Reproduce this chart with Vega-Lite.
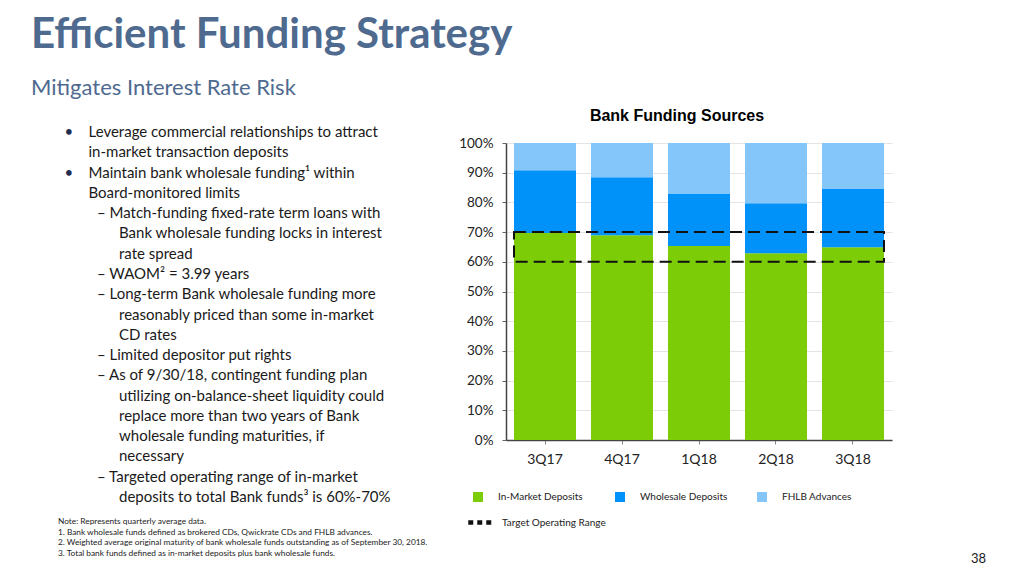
{
  "$schema": "https://vega.github.io/schema/vega-lite/v6.json",
  "background": "white",
  "padding": {"left": 0, "top": 14, "right": 0, "bottom": 0},
  "bounds": "flush",
  "spacing": 20,
  "title": {
    "text": "Efficient Funding Strategy",
    "subtitle": "Mitigates Interest Rate Risk",
    "anchor": "start",
    "dx": 31,
    "font": "Lato",
    "fontSize": 42,
    "fontWeight": "bold",
    "color": "#4f6a8f",
    "subtitleFont": "Lato",
    "subtitleFontSize": 22,
    "subtitleColor": "#4f6a8f",
    "subtitlePadding": 21,
    "offset": 8
  },
  "config": {"view": {"stroke": null}, "font": "Lato"},
  "hconcat": [
    {
      "width": 486,
      "height": 297,
      "layer": [
        {
          "data": {"name": "lines"},
          "transform": [{"filter": "datum.kind === 'bullet'"}],
          "mark": {"type": "text", "align": "left", "baseline": "middle", "font": "Lato", "fontSize": 15, "color": "#1f2d50", "dx": -24},
          "encoding": {
            "x": {"field": "level", "type": "quantitative", "scale": {"domain": [0, 2], "range": [58, 119]}, "axis": null},
            "y": {"field": "line", "type": "quantitative", "scale": {"domain": [1, 19], "range": [-11, 354]}, "axis": null},
            "text": {"value": "•"}
          }
        },
        {
          "data": {"name": "lines"},
          "transform": [{"filter": "datum.kind !== 'dash'"}],
          "mark": {"type": "text", "align": "left", "baseline": "middle", "font": "Lato", "fontSize": 15, "color": "#1a1a1a"},
          "encoding": {
            "x": {"field": "level", "type": "quantitative", "scale": {"domain": [0, 2], "range": [58, 119]}, "axis": null},
            "y": {"field": "line", "type": "quantitative", "scale": {"domain": [1, 19], "range": [-11, 354]}, "axis": null},
            "text": {"field": "text"}
          }
        },
        {
          "data": {"name": "lines"},
          "transform": [{"filter": "datum.kind === 'dash'"}],
          "mark": {"type": "text", "align": "left", "baseline": "middle", "font": "Lato", "fontSize": 15, "color": "#1a1a1a", "dx": -22},
          "encoding": {
            "x": {"field": "level", "type": "quantitative", "scale": {"domain": [0, 2], "range": [58, 119]}, "axis": null},
            "y": {"field": "line", "type": "quantitative", "scale": {"domain": [1, 19], "range": [-11, 354]}, "axis": null},
            "text": {"field": "text"}
          }
        },
        {
          "data": {"name": "notes"},
          "mark": {"type": "text", "align": "left", "baseline": "middle", "font": "Lato", "fontSize": 8.3, "color": "#1a1a1a"},
          "encoding": {
            "x": {"field": "level", "type": "quantitative", "scale": {"domain": [0, 2], "range": [58, 119]}, "axis": null},
            "y": {"field": "fn", "type": "quantitative", "scale": {"domain": [1, 4], "range": [379, 411]}, "axis": null},
            "text": {"field": "text"}
          }
        }
      ],
      "resolve": {"scale": {"y": "independent"}}
    },
    {
      "width": 386,
      "height": 297,
      "title": {
        "text": "Bank Funding Sources",
        "font": "Liberation Sans",
        "fontSize": 16,
        "fontWeight": "bold",
        "color": "#000000",
        "anchor": "middle",
        "frame": "group",
        "dx": -22,
        "offset": 12
      },
      "layer": [
        {
          "data": {"name": "funding"},
          "transform": [{"calculate": "indexof(['In-Market Deposits','Wholesale Deposits','FHLB Advances'], datum.source)", "as": "ord"}],
          "mark": {"type": "bar"},
          "encoding": {
            "x": {
              "field": "quarter", "type": "nominal",
              "scale": {"domain": ["3Q17", "4Q17", "1Q18", "2Q18", "3Q18"], "paddingInner": 0.195, "paddingOuter": 0.104},
              "axis": {"title": null, "labelAngle": 0, "labelFont": "Lato", "labelFontSize": 14, "labelColor": "#222222", "labelPadding": 8, "tickSize": 4, "tickColor": "#888888", "domainColor": "#444444", "domainWidth": 1.5, "grid": false}
            },
            "y": {
              "field": "pct", "type": "quantitative", "stack": "zero",
              "scale": {"domain": [0, 100]},
              "axis": {"title": null, "values": [0, 10, 20, 30, 40, 50, 60, 70, 80, 90, 100], "tickCount": 11, "labelOverlap": false, "labelExpr": "datum.value + '%'", "labelFont": "Lato", "labelFontSize": 13.5, "labelColor": "#222222", "labelPadding": 9, "tickSize": 4, "tickColor": "#666666", "domainColor": "#444444", "domainWidth": 1.5, "grid": true, "gridColor": "#e4e4e4", "gridWidth": 1}
            },
            "color": {
              "field": "source", "type": "nominal",
              "scale": {"domain": ["In-Market Deposits", "Wholesale Deposits", "FHLB Advances"], "range": ["#7ccc08", "#0091f9", "#85c6fa"]},
              "legend": {"orient": "none", "legendX": 473, "legendY": 349, "direction": "horizontal", "title": null, "symbolType": "square", "symbolSize": 100, "symbolStrokeWidth": 0, "labelFont": "Lato", "labelFontSize": 10, "labelColor": "#222222", "labelOffset": 15, "columnPadding": 29, "gridAlign": "all", "padding": 0}
            },
            "order": {"field": "ord", "type": "quantitative"}
          }
        },
        {
          "data": {"name": "target"},
          "mark": {"type": "rect", "fill": "transparent", "stroke": "#111111", "strokeWidth": 2, "strokeDash": [12, 6]},
          "encoding": {
            "x": {"field": "from", "type": "nominal", "bandPosition": 0,
              "axis": {"title": null, "labelAngle": 0, "labelFont": "Lato", "labelFontSize": 14, "labelColor": "#222222", "labelPadding": 8, "tickSize": 4, "tickColor": "#888888", "domainColor": "#444444", "domainWidth": 1.5, "grid": false}},
            "x2": {"field": "to", "bandPosition": 1},
            "y": {"field": "lo", "type": "quantitative",
              "axis": {"title": null, "values": [0, 10, 20, 30, 40, 50, 60, 70, 80, 90, 100], "tickCount": 11, "labelOverlap": false, "labelExpr": "datum.value + '%'", "labelFont": "Lato", "labelFontSize": 13.5, "labelColor": "#222222", "labelPadding": 9, "tickSize": 4, "tickColor": "#666666", "domainColor": "#444444", "domainWidth": 1.5, "grid": true, "gridColor": "#e4e4e4", "gridWidth": 1}},
            "y2": {"field": "hi"}
          }
        },
        {
          "data": {"name": "target"},
          "mark": {"type": "rule", "color": "#111111", "strokeWidth": 2, "strokeCap": "butt"},
          "encoding": {
            "x": {"field": "from", "type": "nominal", "bandPosition": 0,
              "axis": {"title": null, "labelAngle": 0, "labelFont": "Lato", "labelFontSize": 14, "labelColor": "#222222", "labelPadding": 8, "tickSize": 4, "tickColor": "#888888", "domainColor": "#444444", "domainWidth": 1.5, "grid": false}},
            "x2": {"field": "from", "bandPosition": 0},
            "y": {"field": "hi", "type": "quantitative",
              "axis": {"title": null, "values": [0, 10, 20, 30, 40, 50, 60, 70, 80, 90, 100], "tickCount": 11, "labelOverlap": false, "labelExpr": "datum.value + '%'", "labelFont": "Lato", "labelFontSize": 13.5, "labelColor": "#222222", "labelPadding": 9, "tickSize": 4, "tickColor": "#666666", "domainColor": "#444444", "domainWidth": 1.5, "grid": true, "gridColor": "#e4e4e4", "gridWidth": 1}},
            "strokeDash": {
              "field": "label", "type": "nominal",
              "scale": {"domain": ["Target Operating Range"], "range": [[5, 4]]},
              "legend": {"orient": "none", "legendX": 466, "legendY": 365, "title": null, "symbolType": "stroke", "symbolSize": 600, "symbolStrokeWidth": 4.5, "symbolStrokeColor": "#111111", "labelFont": "Lato", "labelFontSize": 10, "labelColor": "#222222", "labelOffset": 7, "padding": 0}
            }
          }
        },
        {
          "data": {"values": [{"page": "38"}]},
          "mark": {"type": "text", "align": "right", "baseline": "middle", "font": "Lato", "fontSize": 13, "color": "#1a1a1a", "dx": 133, "dy": 119},
          "encoding": {
            "x": {"datum": "3Q18", "type": "nominal",
              "axis": {"title": null, "labelAngle": 0, "labelFont": "Lato", "labelFontSize": 14, "labelColor": "#222222", "labelPadding": 8, "tickSize": 4, "tickColor": "#888888", "domainColor": "#444444", "domainWidth": 1.5, "grid": false}},
            "y": {"datum": 0, "type": "quantitative",
              "axis": {"title": null, "values": [0, 10, 20, 30, 40, 50, 60, 70, 80, 90, 100], "tickCount": 11, "labelOverlap": false, "labelExpr": "datum.value + '%'", "labelFont": "Lato", "labelFontSize": 13.5, "labelColor": "#222222", "labelPadding": 9, "tickSize": 4, "tickColor": "#666666", "domainColor": "#444444", "domainWidth": 1.5, "grid": true, "gridColor": "#e4e4e4", "gridWidth": 1}},
            "text": {"field": "page"}
          }
        }
      ]
    }
  ],
  "datasets": {
    "funding": [
      {"quarter": "3Q17", "source": "In-Market Deposits", "pct": 69.7},
      {"quarter": "3Q17", "source": "Wholesale Deposits", "pct": 21.1},
      {"quarter": "3Q17", "source": "FHLB Advances", "pct": 9.2},
      {"quarter": "4Q17", "source": "In-Market Deposits", "pct": 68.9},
      {"quarter": "4Q17", "source": "Wholesale Deposits", "pct": 19.6},
      {"quarter": "4Q17", "source": "FHLB Advances", "pct": 11.5},
      {"quarter": "1Q18", "source": "In-Market Deposits", "pct": 65.3},
      {"quarter": "1Q18", "source": "Wholesale Deposits", "pct": 17.7},
      {"quarter": "1Q18", "source": "FHLB Advances", "pct": 17.0},
      {"quarter": "2Q18", "source": "In-Market Deposits", "pct": 62.9},
      {"quarter": "2Q18", "source": "Wholesale Deposits", "pct": 16.8},
      {"quarter": "2Q18", "source": "FHLB Advances", "pct": 20.3},
      {"quarter": "3Q18", "source": "In-Market Deposits", "pct": 64.9},
      {"quarter": "3Q18", "source": "Wholesale Deposits", "pct": 19.6},
      {"quarter": "3Q18", "source": "FHLB Advances", "pct": 15.5}
    ],
    "target": [
      {"label": "Target Operating Range", "from": "3Q17", "to": "3Q18", "lo": 60, "hi": 70}
    ],
    "lines": [
      {"line": 1, "level": 1, "kind": "bullet", "text": "Leverage commercial relationships to attract"},
      {"line": 2, "level": 1, "kind": "text", "text": "in-market transaction deposits"},
      {"line": 3, "level": 1, "kind": "bullet", "text": "Maintain bank wholesale funding¹ within"},
      {"line": 4, "level": 1, "kind": "text", "text": "Board-monitored limits"},
      {"line": 5, "level": 2, "kind": "dash", "text": "– Match-funding fixed-rate term loans with"},
      {"line": 6, "level": 2, "kind": "sub", "text": "Bank wholesale funding locks in interest"},
      {"line": 7, "level": 2, "kind": "sub", "text": "rate spread"},
      {"line": 8, "level": 2, "kind": "dash", "text": "– WAOM² = 3.99 years"},
      {"line": 9, "level": 2, "kind": "dash", "text": "– Long-term Bank wholesale funding more"},
      {"line": 10, "level": 2, "kind": "sub", "text": "reasonably priced than some in-market"},
      {"line": 11, "level": 2, "kind": "sub", "text": "CD rates"},
      {"line": 12, "level": 2, "kind": "dash", "text": "– Limited depositor put rights"},
      {"line": 13, "level": 2, "kind": "dash", "text": "– As of 9/30/18, contingent funding plan"},
      {"line": 14, "level": 2, "kind": "sub", "text": "utilizing on-balance-sheet liquidity could"},
      {"line": 15, "level": 2, "kind": "sub", "text": "replace more than two years of Bank"},
      {"line": 16, "level": 2, "kind": "sub", "text": "wholesale funding maturities, if"},
      {"line": 17, "level": 2, "kind": "sub", "text": "necessary"},
      {"line": 18, "level": 2, "kind": "dash", "text": "– Targeted operating range of in-market"},
      {"line": 19, "level": 2, "kind": "sub", "text": "deposits to total Bank funds³ is 60%-70%"}
    ],
    "notes": [
      {"fn": 1, "level": 0, "text": "Note: Represents quarterly average data."},
      {"fn": 2, "level": 0, "text": "1.  Bank wholesale funds defined as brokered CDs, Qwickrate CDs and FHLB advances."},
      {"fn": 3, "level": 0, "text": "2.  Weighted average original maturity of bank wholesale funds outstanding as of September 30, 2018."},
      {"fn": 4, "level": 0, "text": "3.  Total bank funds defined as in-market deposits plus bank wholesale funds."}
    ]
  }
}
